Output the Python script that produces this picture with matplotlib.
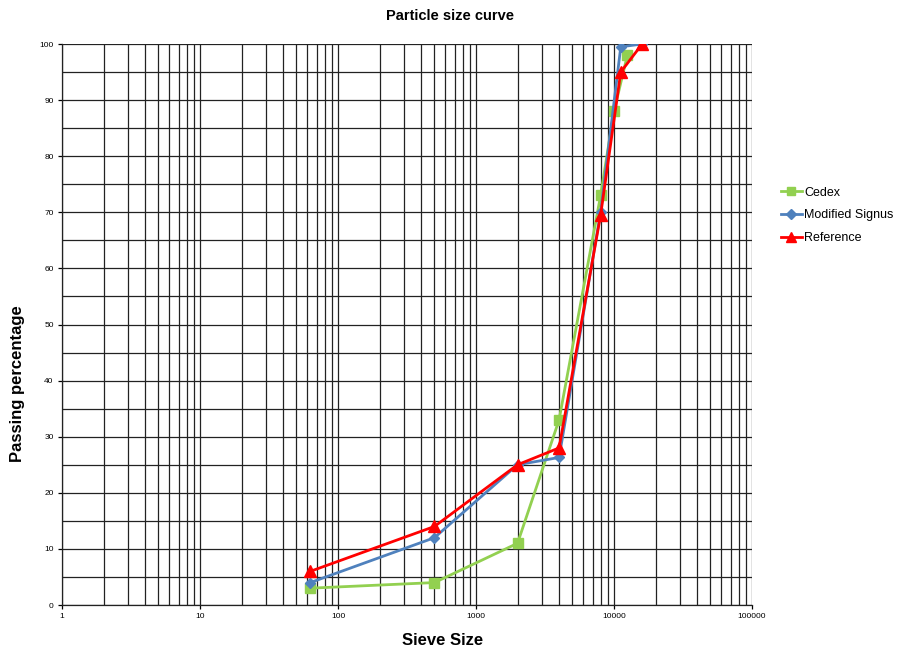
import matplotlib
matplotlib.use("Agg")
import matplotlib.pyplot as plt
from matplotlib.ticker import FixedLocator, NullFormatter

plt.rcParams['font.family'] = ['Liberation Sans', 'DejaVu Sans']

# sieve sizes and passing percentages
cedex_x = [63, 500, 2000, 4000, 8000, 10000, 12500]
cedex_y = [3, 4, 11, 33, 73, 88, 98]

signus_x = [63, 500, 2000, 4000, 8000, 11200, 16000]
signus_y = [4, 12, 25, 26.3, 70, 99.5, 100]

ref_x = [63, 500, 2000, 4000, 8000, 11200, 16000]
ref_y = [6, 14, 25, 28, 69.5, 95, 100]

x_ticks = [1, 10, 100, 1000, 10000, 100000]
y_ticks = list(range(0, 101, 10))

fig = plt.figure(figsize=(9.01, 6.54), dpi=100)
ax = fig.add_axes([0.0688, 0.0749, 0.7658, 0.8578])

ax.plot(cedex_x, cedex_y, color='#92D050', lw=2, marker='s', ms=7,
        label='Cedex', zorder=3)
ax.plot(signus_x, signus_y, color='#4F81BD', lw=2, marker='D', ms=5.5,
        label='Modified Signus', zorder=4)
ax.plot(ref_x, ref_y, color='#FF0000', lw=2, marker='^', ms=8,
        label='Reference', zorder=5)

ax.set_xscale('log')
ax.set_xlim(1, 100000)
ax.set_ylim(0, 100)

ax.xaxis.set_major_locator(FixedLocator(x_ticks))
ax.set_xticklabels([str(t) for t in x_ticks])
minors = [m * 10 ** d for d in range(5) for m in range(2, 10)]
ax.xaxis.set_minor_locator(FixedLocator(minors))
ax.xaxis.set_minor_formatter(NullFormatter())
ax.set_yticks(y_ticks)
ax.set_yticks(list(range(5, 100, 10)), minor=True)

ax.grid(True, which='both', color='#222222', lw=0.9)
ax.set_axisbelow(True)
ax.tick_params(axis='both', which='major', labelsize=6, length=3,
               direction='out', width=0.9, pad=3)
ax.tick_params(axis='both', which='minor', length=0)

for side in ['top', 'right']:
    ax.spines[side].set_visible(False)
for side in ['left', 'bottom']:
    ax.spines[side].set_color('#222222')
    ax.spines[side].set_linewidth(0.9)

fig.text(0.5, 0.976, 'Particle size curve', ha='center', va='center',
         fontsize=10.5, fontweight='bold')
fig.text(0.491, 0.02, 'Sieve Size', ha='center', va='center',
         fontsize=12, fontweight='bold')
fig.text(0.019, 0.414, 'Passing percentage', ha='center', va='center',
         rotation=90, fontsize=12, fontweight='bold')

fig.legend(loc='upper left', bbox_to_anchor=(0.861, 0.722), frameon=False,
           fontsize=9, handlelength=1.7, handletextpad=0.15,
           labelspacing=0.85, borderaxespad=0, markerscale=0.85)

fig.savefig('out.png', dpi=100)
